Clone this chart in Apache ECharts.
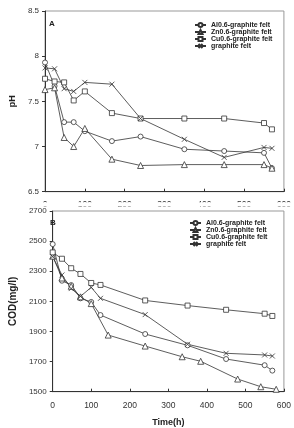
<!DOCTYPE html>
<html><head><meta charset="utf-8">
<script src="https://cdn.jsdelivr.net/npm/echarts@6/dist/echarts.min.js"></script>
<style>html,body{margin:0;padding:0;background:#fff}#c{width:294px;height:428px}</style>
</head><body><div id="c"></div>
<script>
var seriesNames = ['Al0.6-graphite felt','Zn0.6-graphite felt','Cu0.6-graphite felt','graphite felt'];
var xTicks = [0,100,200,300,400,500,600];
// pH panel (A)
var timeA = [0,24,48,72,100,168,240,350,450,550,570];
var phAl = [7.93,7.67,7.27,7.27,7.17,7.06,7.11,6.97,6.95,6.93,6.76];
var phZn = [7.63,7.65,7.10,7.00,7.20,6.86,6.79,6.80,6.80,6.80,6.76];
var phCu = [7.75,7.72,7.71,7.51,7.61,7.37,7.31,7.31,7.31,7.26,7.19];
var phGf = [7.87,7.86,7.64,7.61,7.71,7.69,7.31,7.08,6.88,6.99,6.98];
// COD panel (B)
var timeB = [0,24,48,72,100,124,240,350,450,550,570];
var timeBZn = [0,24,48,72,100,144,240,336,384,480,540,580];
var codAl = [2480,2237,2208,2120,2096,2009,1883,1808,1717,1676,1640];
var codZn = [2400,2255,2200,2130,2085,1876,1803,1732,1702,1584,1533,1516];
var codCu = [2425,2383,2320,2282,2222,2209,2106,2072,2044,2018,2003];
var codGf = [2397,2275,2185,2133,2193,2120,2012,1815,1755,1744,1737];

var symbols = ['circle','triangle','rect','path://M0,0L10,10M10,0L0,10'];
var symSizes = [5,6,5,5];
function pairs(xs, ys){ return xs.map(function(x,i){ return [x, ys[i]]; }); }
function mk(name, idx, xs, ys, axis){
  return {name:name, type:'line', xAxisIndex:axis, yAxisIndex:axis, data:pairs(xs,ys),
    symbol:symbols[idx], symbolSize:symSizes[idx], showAllSymbol:true,
    lineStyle:{color:'#333', width:0.8}, itemStyle:{color:'#fff', borderColor:'#333', borderWidth:0.8},
    emphasis:{disabled:true}, animation:false};
}
var fontFam = 'Liberation Sans, Arial, sans-serif';
function plain(v){ return String(v); }
function xAx(idx, showName){
  return {type:'value', gridIndex:idx, min:0, max:600, interval:100,
    axisLine:{show:true, onZero:false, lineStyle:{color:'#333', width:1}},
    axisTick:{show:true, inside:true, length:3, lineStyle:{color:'#333'}},
    axisLabel:{fontSize:8.5, color:'#333', margin: idx===0?8:9, fontFamily:fontFam, formatter:plain},
    splitLine:{show:false},
    name: showName?'Time(h)':'', nameLocation:'middle', nameGap:26,
    nameTextStyle:{fontSize:9, fontWeight:'bold', color:'#222', fontFamily:fontFam}};
}
function yAx(idx, mn, mx, iv, nm, gap, fs){
  return {type:'value', gridIndex:idx, min:mn, max:mx, interval:iv,
    axisLine:{show:true, onZero:false, lineStyle:{color:'#333', width:1}},
    axisTick:{show:true, inside:false, length:3, lineStyle:{color:'#333'}},
    axisLabel:{fontSize:8, color:'#333', margin:6, fontFamily:fontFam, formatter:plain},
    splitLine:{show:false},
    name:nm, nameLocation:'middle', nameGap:gap,
    nameTextStyle:{fontSize:fs, fontWeight:'bold', color:'#222', fontFamily:fontFam}};
}
function leg(idx, left, top){
  return {show:true, orient:'vertical', left:left, top:top, itemGap:0, itemWidth:11, itemHeight:5,
    padding:0, data:seriesNames.map(function(n){return n + (idx? ' ':'');}),
    textStyle:{fontSize:7, lineHeight:5, fontWeight:'bold', color:'#222', fontFamily:fontFam}};
}
var chart = echarts.init(document.getElementById('c'), null, {renderer:'canvas'});
var series = [
  mk(seriesNames[0],0,timeA,phAl,0), mk(seriesNames[1],1,timeA,phZn,0),
  mk(seriesNames[2],2,timeA,phCu,0), mk(seriesNames[3],3,timeA,phGf,0),
  mk(seriesNames[0]+' ',0,timeB,codAl,1), mk(seriesNames[1]+' ',1,timeBZn,codZn,1),
  mk(seriesNames[2]+' ',2,timeB,codCu,1), mk(seriesNames[3]+' ',3,timeB,codGf,1)
];
chart.setOption({
  backgroundColor:'#fff',
  animation:false,
  grid:[
    {left:42, top:11, width:243, height:180.7, show:true, borderColor:'#999', borderWidth:1, backgroundColor:'transparent'},
    {left:43.3, top:211, width:242.2, height:180.7, show:true, borderColor:'#999', borderWidth:1, backgroundColor:'transparent'}
  ],
  xAxis:[xAx(0,false), xAx(1,true)],
  yAxis:[yAx(0,6.5,8.5,0.5,'pH',27,9), yAx(1,1500,2700,200,'COD(mg/l)',31,10)],
  legend:[leg(0,194,21.5), leg(1,189,219.5)],
  series:series,
  graphic:[
    {type:'rect', zlevel:1, z:100, shape:{x:0, y:202.3, width:294, height:4.2}, style:{fill:'#fff'}},
    {type:'text', z:101, left:49, top:20, style:{text:'A', fontSize:8, fontWeight:'bold', fill:'#222', fontFamily:fontFam}},
    {type:'text', z:101, left:50, top:219, style:{text:'B', fontSize:8, fontWeight:'bold', fill:'#222', fontFamily:fontFam}}
  ]
});
</script></body></html>
